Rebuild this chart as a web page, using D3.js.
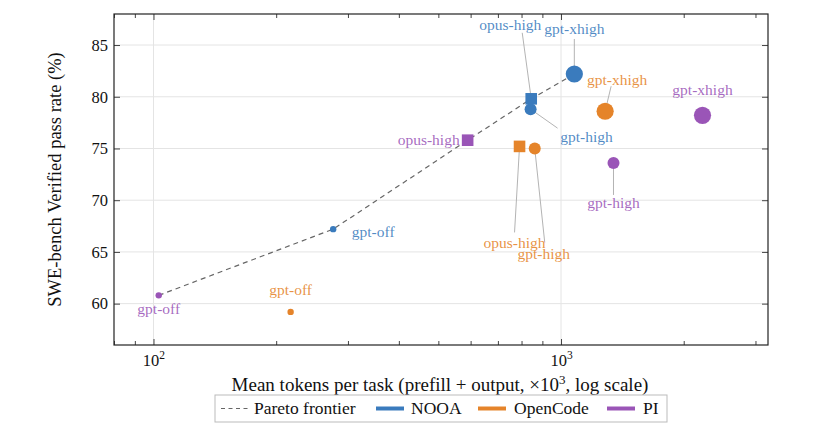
<!DOCTYPE html>
<html>
<head>
<meta charset="utf-8">
<script src="https://cdn.jsdelivr.net/npm/d3@7"></script>
<style>
  body { margin: 0; background: #fff; }
  svg { font-family: "Liberation Serif", "Times New Roman", serif; }
</style>
</head>
<body>
<svg id="chart" width="822" height="436"></svg>
<script>
// agents and run configs
const agents = ['NOOA', 'OpenCode', 'PI']
const configs = ['gpt-off', 'gpt-high', 'gpt-xhigh', 'opus-high']

// mean tokens per task (x10^3), same order as configs
const nooaTokens = [276, 842, 1078, 845]
const opencodeTokens = [217, 862, 1283, 791]
const piTokens = [103, 1345, 2224, 590]

// SWE-bench Verified pass rate (%)
const nooaPass = [67.2, 78.8, 82.2, 79.8]
const opencodePass = [59.2, 75.0, 78.6, 75.2]
const piPass = [60.8, 73.6, 78.2, 75.8]

// pareto frontier, as [agent, config]
const pareto = [['PI', 'gpt-off'], ['NOOA', 'gpt-off'], ['PI', 'opus-high'], ['NOOA', 'opus-high'], ['NOOA', 'gpt-xhigh']]

const xTicks = [100, 1000]
const yTicks = [60, 65, 70, 75, 80, 85]

const colors = { NOOA: '#3a7bbd', OpenCode: '#e5842a', PI: '#9a55b7' }

// label placement: [dx, dy, anchor, leader dx, leader dy] relative to the marker
const labelPlace = {
  'NOOA gpt-off': [40, 8, 'middle'],
  'NOOA gpt-high': [56, 33, 'middle', 27, 19],
  'NOOA gpt-xhigh': [0, -40, 'middle', 0, -35],
  'NOOA opus-high': [-21, -69, 'middle', -9, -66],
  'OpenCode gpt-off': [0, -17, 'middle'],
  'OpenCode gpt-high': [9, 111, 'middle', 10, 94],
  'OpenCode gpt-xhigh': [12, -26, 'middle', 6, -25],
  'OpenCode opus-high': [-5, 102, 'middle', -5, 86],
  'PI gpt-off': [0, 19, 'middle'],
  'PI gpt-high': [0, 45, 'middle', 0, 32],
  'PI gpt-xhigh': [0, -20, 'middle'],
  'PI opus-high': [-8, 5, 'end']
}

const tokens = { NOOA: nooaTokens, OpenCode: opencodeTokens, PI: piTokens }
const pass = { NOOA: nooaPass, OpenCode: opencodePass, PI: piPass }

const points = agents.flatMap(a => configs.map((c, i) => ({
  agent: a, config: c, x: tokens[a][i], y: pass[a][i]
})))
const find = (a, c) => points.find(p => p.agent === a && p.config === c)
const place = d => labelPlace[d.agent + ' ' + d.config]

const svg = d3.select('#chart')
const margin = { top: 14, right: 54, bottom: 91, left: 114 }
const width = 822 - margin.left - margin.right
const height = 436 - margin.top - margin.bottom

const x = d3.scaleLog().domain([80, 3220]).range([0, width])
const y = d3.scaleLinear().domain([56, 88]).range([height, 0])

const g = svg.append('g').attr('transform', `translate(${margin.left},${margin.top})`)

// grid
g.selectAll('.gx').data(xTicks).join('line')
  .attr('x1', d => x(d)).attr('x2', d => x(d))
  .attr('y1', 0).attr('y2', height)
  .attr('stroke', '#e4e4e4').attr('stroke-width', 1)
g.selectAll('.gy').data(yTicks).join('line')
  .attr('x1', 0).attr('x2', width)
  .attr('y1', d => y(d)).attr('y2', d => y(d))
  .attr('stroke', '#e4e4e4').attr('stroke-width', 1)

// axes with inward ticks
const minor = [80, 90, 200, 300, 400, 500, 600, 700, 800, 900, 2000, 3000]
const styleAxis = sel => {
  sel.select('.domain').remove()
  sel.selectAll('line').attr('stroke', '#444')
  sel.selectAll('text').attr('font-family', 'Liberation Serif').attr('font-size', 16.5).attr('fill', '#111')
}

g.append('g').attr('transform', `translate(0,${height})`)
  .call(d3.axisBottom(x).tickValues(minor).tickSizeInner(-4).tickSizeOuter(0).tickFormat(''))
  .call(styleAxis)
g.append('g')
  .call(d3.axisTop(x).tickValues(minor).tickSizeInner(-4).tickSizeOuter(0).tickFormat(''))
  .call(styleAxis)
const xb = g.append('g').attr('transform', `translate(0,${height})`)
  .call(d3.axisBottom(x).tickValues(xTicks).tickSizeInner(-6).tickSizeOuter(0).tickPadding(9).tickFormat(() => ''))
  .call(styleAxis)
xb.selectAll('.tick text')
  .text('10')
  .append('tspan').attr('dy', -7).attr('font-size', 11.5).text(d => Math.round(Math.log10(d)))
g.append('g')
  .call(d3.axisTop(x).tickValues(xTicks).tickSizeInner(-6).tickSizeOuter(0).tickFormat(''))
  .call(styleAxis)
g.append('g')
  .call(d3.axisLeft(y).tickValues(yTicks).tickSizeInner(-6).tickSizeOuter(0).tickPadding(6))
  .call(styleAxis)
g.append('g').attr('transform', `translate(${width},0)`)
  .call(d3.axisRight(y).tickValues(yTicks).tickSizeInner(-6).tickSizeOuter(0).tickFormat(''))
  .call(styleAxis)

// frame
g.append('rect').attr('width', width).attr('height', height)
  .attr('fill', 'none').attr('stroke', '#222').attr('stroke-width', 1.2)

// pareto frontier
g.append('path')
  .datum(pareto.map(([a, c]) => find(a, c)))
  .attr('d', d3.line().x(d => x(d.x)).y(d => y(d.y)))
  .attr('fill', 'none').attr('stroke', '#666').attr('stroke-width', 1.2)
  .attr('stroke-dasharray', '5,4')

// leader lines
g.selectAll('.leader')
  .data(points.filter(p => place(p).length > 3))
  .join('line')
  .attr('x1', d => x(d.x)).attr('y1', d => y(d.y))
  .attr('x2', d => x(d.x) + place(d)[3])
  .attr('y2', d => y(d.y) + place(d)[4])
  .attr('stroke', '#aaa').attr('stroke-width', 0.9)

// markers: size by reasoning effort, square for opus
const radius = { 'gpt-off': 3.2, 'gpt-high': 6, 'gpt-xhigh': 8.6 }
g.selectAll('.dot')
  .data(points.filter(p => p.config !== 'opus-high'))
  .join('circle')
  .attr('cx', d => x(d.x)).attr('cy', d => y(d.y))
  .attr('r', d => radius[d.config])
  .attr('fill', d => colors[d.agent])
g.selectAll('.sq')
  .data(points.filter(p => p.config === 'opus-high'))
  .join('rect')
  .attr('x', d => x(d.x) - 5.8).attr('y', d => y(d.y) - 5.8)
  .attr('width', 11.6).attr('height', 11.6)
  .attr('fill', d => colors[d.agent])

// point labels
g.selectAll('.lbl')
  .data(points)
  .join('text')
  .attr('x', d => x(d.x) + place(d)[0])
  .attr('y', d => y(d.y) + place(d)[1])
  .attr('text-anchor', d => place(d)[2])
  .attr('font-size', 15.5)
  .attr('fill', d => colors[d.agent])
  .attr('fill-opacity', 0.88)
  .text(d => d.config)

// axis titles
svg.append('text')
  .attr('x', margin.left + width / 2 - 1).attr('y', 391)
  .attr('text-anchor', 'middle').attr('font-size', 19).attr('fill', '#111')
  .text('Mean tokens per task (prefill + output, ×10')
  .call(t => t.append('tspan').attr('dy', -7).attr('font-size', 13).text('3'))
  .call(t => t.append('tspan').attr('dy', 7).text(', log scale)'))

svg.append('text')
  .attr('transform', `translate(61,${margin.top + height / 2}) rotate(-90)`)
  .attr('text-anchor', 'middle').attr('font-size', 18.5).attr('fill', '#111')
  .text('SWE-bench Verified pass rate (%)')

// legend
const legend = svg.append('g').attr('transform', 'translate(215,395)')
legend.append('rect').attr('width', 452).attr('height', 27)
  .attr('fill', '#fff').attr('stroke', '#bbb').attr('stroke-width', 1)
const items = [
  { name: 'Pareto frontier', x0: 6, tx: 39 },
  { name: 'NOOA', x0: 161, tx: 196 },
  { name: 'OpenCode', x0: 263, tx: 299 },
  { name: 'PI', x0: 392, tx: 428 }
]
legend.selectAll('.sw').data(items).join('line')
  .attr('x1', d => d.x0).attr('x2', d => d.x0 + 28)
  .attr('y1', 13.5).attr('y2', 13.5)
  .attr('stroke', d => colors[d.name] || '#666')
  .attr('stroke-width', d => colors[d.name] ? 4 : 1.2)
  .attr('stroke-dasharray', d => colors[d.name] ? null : '4,3.5')
legend.selectAll('.lt').data(items).join('text')
  .attr('x', d => d.tx).attr('y', 19)
  .attr('font-size', 17.5).attr('fill', '#111')
  .text(d => d.name)
</script>
</body>
</html>
